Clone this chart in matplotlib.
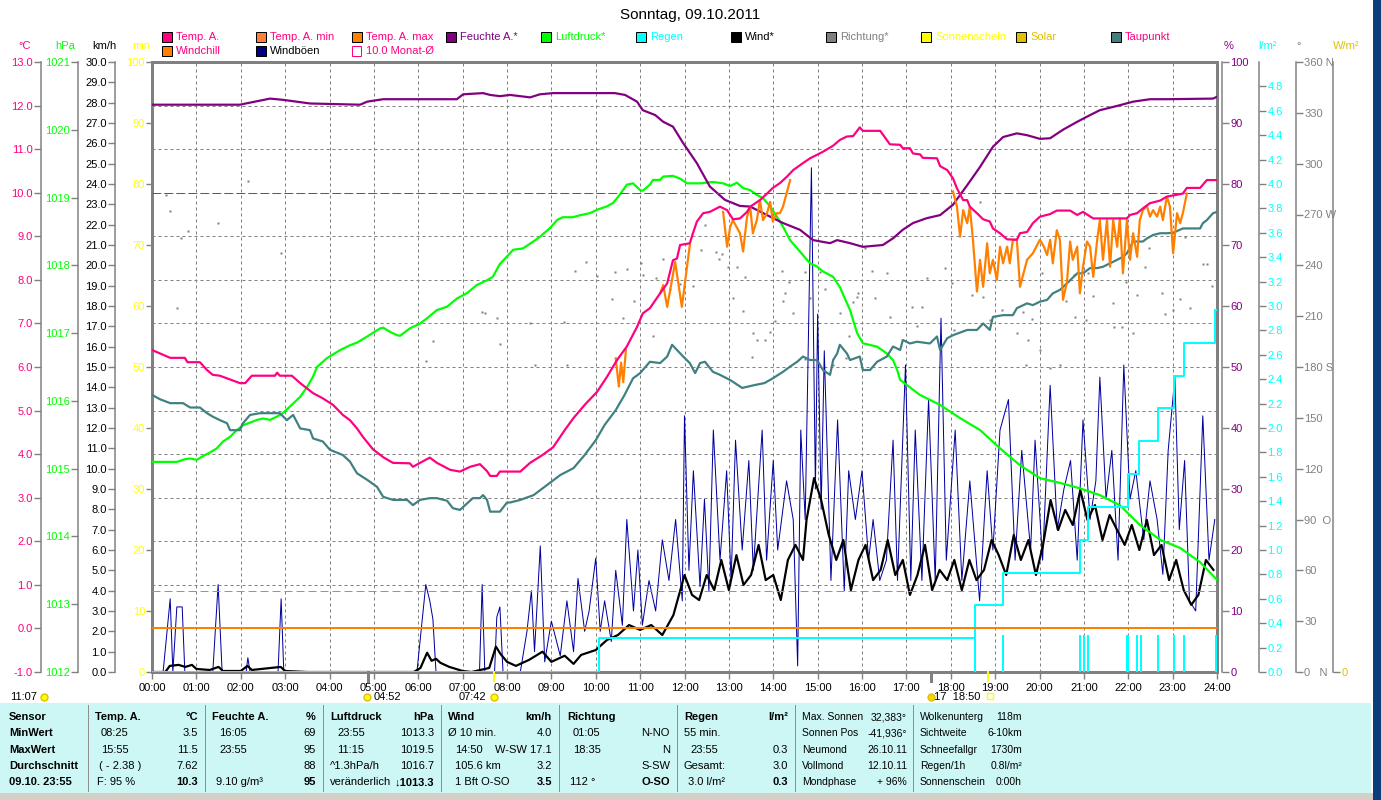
import numpy as np
import matplotlib
matplotlib.use("Agg")
import matplotlib.pyplot as plt
from matplotlib.patches import Rectangle
from matplotlib.lines import Line2D

plt.rcParams['font.family'] = ['Liberation Sans', 'DejaVu Sans']

NAN = float('nan')

# ---- Feuchte A. (%)
hum_h = [0.00, 1.98, 2.66, 2.95, 3.56, 4.69, 4.85, 5.21, 6.87, 7.01, 7.46, 7.62, 7.84, 8.07, 8.52, 8.74, 9.04,
         10.43, 10.66, 10.93, 11.06, 11.34, 11.52, 11.74, 11.97, 12.28, 12.57, 12.91, 13.25, 13.48, 13.86, 14.22,
         14.60, 14.90, 15.28, 15.44, 15.73, 16.02, 16.47, 16.70, 16.92, 17.15, 17.46, 17.76, 18.05, 18.37, 18.66,
         18.95, 19.18, 19.49, 19.72, 20.01, 20.24, 20.53, 20.85, 21.14, 21.36, 21.75, 22.11, 22.49, 22.87, 23.91, 24.00]
hum_v = [93.0, 93.0, 94.0, 93.8, 93.2, 93.0, 93.5, 93.9, 93.9, 94.7, 94.9, 94.6, 94.4, 94.6, 94.2, 94.7, 94.9,
         94.9, 94.6, 93.5, 92.1, 91.3, 90.2, 89.4, 86.7, 83.4, 79.6, 77.4, 76.4, 76.3, 74.9, 73.6,
         72.5, 70.8, 70.3, 70.8, 70.3, 69.7, 70.0, 71.1, 72.5, 73.6, 74.4, 74.9, 76.6, 79.8, 82.8,
         86.1, 87.7, 88.3, 88.0, 87.4, 87.5, 88.9, 90.2, 91.3, 92.1, 92.8, 93.5, 93.9, 93.9, 94.0, 94.3]

# ---- Temp. A. (°C)
temp_h = [0.00, 0.18, 0.41, 0.74, 0.80, 1.08, 1.24, 1.37, 1.53, 1.98, 2.10, 2.25, 2.77, 2.82, 2.88, 3.15, 3.34, 3.63,
          3.85, 4.08, 4.30, 4.46, 4.62, 4.75, 4.98, 5.21, 5.43, 5.81, 5.88, 6.04, 6.26, 6.42, 6.72, 6.94, 7.17, 7.39,
          7.55, 7.62, 7.77, 7.84, 8.07, 8.30, 8.52, 8.80, 9.04, 9.30, 9.50, 9.75, 10.03, 10.25, 10.48, 10.70, 10.93,
          11.06, 11.22, 11.45, 11.61, 11.74, 11.83, 11.90, 12.12, 12.19, 12.28, 12.42, 12.57, 12.80, 12.96, 13.09,
          13.25, 13.41, 13.48, 13.70, 13.86, 13.99, 14.15, 14.31, 14.45, 14.67, 14.83, 15.12, 15.35, 15.50, 15.66,
          15.80, 15.95, 16.02, 16.41, 16.63, 16.86, 16.92, 17.08, 17.15, 17.31, 17.37, 17.69, 17.76, 17.92, 18.05,
          18.14, 18.28, 18.37, 18.43, 18.59, 18.73, 18.88, 18.95, 19.11, 19.27, 19.49, 19.56, 19.72, 19.85, 20.01,
          20.24, 20.39, 20.69, 20.85, 20.98, 21.21, 21.97, 22.04, 22.20, 22.33, 22.49, 22.72, 22.87, 23.23, 23.32,
          23.62, 23.77, 24.00]
temp_c = [6.39, 6.31, 6.21, 6.21, 6.11, 6.11, 5.93, 5.82, 5.80, 5.63, 5.63, 5.80, 5.80, 5.87, 5.80, 5.80, 5.63, 5.40,
          5.28, 5.13, 4.90, 4.78, 4.59, 4.40, 4.11, 3.93, 3.80, 3.79, 3.71, 3.80, 3.92, 3.80, 3.64, 3.60, 3.71, 3.77,
          3.61, 3.50, 3.50, 3.60, 3.60, 3.60, 3.80, 3.98, 4.16, 4.55, 4.83, 5.13, 5.43, 5.77, 6.16, 6.47, 6.92,
          7.23, 7.35, 7.69, 7.92, 8.45, 8.49, 8.80, 8.84, 9.07, 9.34, 9.53, 9.56, 9.68, 9.60, 9.39,
          9.41, 9.56, 9.68, 9.83, 9.98, 10.11, 10.22, 10.37, 10.52, 10.68, 10.79, 10.94, 11.08, 11.21, 11.29,
          11.30, 11.50, 11.42, 11.42, 11.11, 11.10, 11.02, 11.02, 10.90, 10.88, 10.80, 10.79, 10.61, 10.52, 10.33,
          10.10, 9.83, 9.83, 9.68, 9.53, 9.39, 9.34, 9.18, 9.07, 8.93, 8.92, 9.07, 9.10, 9.30, 9.45,
          9.51, 9.59, 9.59, 9.49, 9.56, 9.41, 9.41, 9.49, 9.53, 9.64, 9.76, 9.82, 9.91, 9.98, 10.11,
          10.11, 10.29, 10.29]

# ---- Windchill (°C), only where it leaves the temperature curve
chill_h = [10.45, 10.52, 10.57, 10.62, 10.68, NAN,
           11.45, 11.52, 11.61, 11.79, 11.94, 12.12, NAN,
           12.87, 12.96, 13.03, 13.09, 13.25, 13.32, 13.41, 13.48, 13.54, 13.63, 13.70, 13.77, 13.86, 13.93, 13.99,
           14.08, 14.15, 14.22, 14.31, 14.38, NAN,
           18.05, 18.14, 18.21, 18.28, 18.37, 18.43, 18.50, 18.59, 18.66, 18.73, 18.82, 18.88, 18.95, 19.04, 19.11,
           19.18, 19.27, 19.33, 19.40, 19.49, 19.56, 19.72, 19.85, 20.01, 20.10, 20.17, 20.24, 20.30, 20.39, 20.46,
           20.53, 20.62, 20.69, 20.75, 20.85, 20.91, 20.98, 21.07, 21.14, 21.21, 21.30, 21.36, 21.43, 21.52, 21.59,
           21.66, 21.75, 21.81, 21.88, 21.97, 22.04, 22.11, 22.20, 22.26, 22.33, 22.42, 22.49, 22.56, 22.65, 22.72,
           22.78, 22.87, 22.94, 23.01, 23.10, 23.17, 23.23, 23.32]
chill_c = [6.20, 5.55, 6.10, 5.65, 6.40, NAN,
           7.69, 7.88, 7.38, 8.41, 7.38, 8.80, NAN,
           9.56, 8.76, 9.22, 9.37, 9.07, 8.65, 9.45, 9.68, 9.07, 9.37, 9.83, 9.37, 9.53, 9.79, 9.34,
           9.53, 9.53, 9.68, 10.02, 10.29, NAN,
           10.03, 9.68, 8.99, 9.60, 9.30, 9.68, 8.92, 7.73, 8.46, 7.84, 8.84, 8.15, 8.46, 8.00, 8.76,
           8.38, 8.76, 8.38, 8.92, 8.92, 7.84, 8.46, 8.61, 8.92, 8.76, 8.57, 8.92, 8.38, 9.14, 8.92,
           7.54, 7.96, 8.88, 8.46, 8.76, 7.69, 8.30, 8.88, 8.76, 8.07, 8.92, 9.37, 8.46, 9.37, 8.30,
           9.37, 8.76, 9.41, 8.15, 9.37, 8.46, 9.07, 8.53, 9.37, 9.60, 9.70, 9.45, 9.60, 9.45, 9.68,
           9.37, 9.91, 9.68, 8.61, 9.53, 9.30, 9.53, 9.98]

# ---- Taupunkt (°C)
dew_h = [0.00, 0.18, 0.41, 0.70, 0.86, 1.08, 1.24, 1.37, 1.53, 1.69, 1.76, 1.98, 2.05, 2.21, 2.43, 2.73, 2.88, 3.04,
         3.18, 3.34, 3.56, 3.63, 3.85, 4.01, 4.30, 4.46, 4.62, 4.85, 5.07, 5.21, 5.43, 5.75, 5.88, 6.04, 6.26, 6.42,
         6.65, 6.78, 6.94, 7.10, 7.23, 7.39, 7.46, 7.55, 7.62, 7.84, 8.00, 8.07, 8.30, 8.60, 8.90, 9.20, 9.50, 9.75,
         10.00, 10.20, 10.45, 10.65, 10.84, 11.00, 11.22, 11.45, 11.61, 11.72, 11.83, 11.97, 12.12, 12.24, 12.35,
         12.46, 12.64, 12.80, 13.03, 13.30, 13.60, 13.80, 13.99, 14.22, 14.38, 14.54, 14.67, 14.83, 14.99, 15.12,
         15.28, 15.35, 15.44, 15.50, 15.66, 15.73, 15.95, 16.02, 16.18, 16.34, 16.56, 16.70, 16.86, 16.92, 17.08,
         17.24, 17.53, 17.69, 17.76, 17.92, 18.05, 18.37, 18.59, 18.73, 18.88, 18.95, 19.18, 19.40, 19.49, 19.72,
         19.85, 20.01, 20.17, 20.30, 20.46, 20.62, 20.85, 20.98, 21.14, 21.30, 21.43, 21.75, 21.88, 21.97, 22.11,
         22.33, 22.42, 22.56, 22.72, 22.87, 23.01, 23.23, 23.62, 23.68, 23.77, 23.91, 24.00]
dew_c = [5.36, 5.26, 5.17, 5.17, 5.07, 5.07, 4.94, 4.86, 4.78, 4.71, 4.55, 4.55, 4.71, 4.90, 4.94, 4.94, 4.94, 4.78,
         4.90, 4.59, 4.55, 4.36, 4.29, 4.10, 3.98, 3.83, 3.56, 3.41, 3.25, 3.02, 2.95, 2.95, 2.83, 2.95, 2.99, 2.99,
         2.93, 2.76, 2.72, 2.87, 2.99, 2.99, 3.06, 2.95, 2.68, 2.68, 2.89, 2.89, 2.95, 3.06, 3.29, 3.52, 3.68, 3.98,
         4.32, 4.67, 5.01, 5.36, 5.74, 5.86, 6.12, 6.09, 6.24, 6.51, 6.39, 6.24, 6.09, 5.86, 6.09,
         6.12, 5.89, 5.82, 5.70, 5.52, 5.59, 5.63, 5.74, 5.89, 6.01, 6.12, 6.24, 6.16, 6.16, 5.93,
         5.82, 6.16, 6.31, 6.51, 6.31, 6.16, 6.24, 5.93, 5.93, 6.12, 6.24, 6.47, 6.39, 6.62, 6.54,
         6.58, 6.54, 6.70, 6.39, 6.66, 6.73, 6.85, 6.85, 7.00, 6.85, 7.15, 7.19, 7.19, 7.35, 7.46,
         7.42, 7.50, 7.54, 7.69, 7.77, 7.92, 8.15, 8.15, 8.27, 8.27, 8.30, 8.46, 8.53, 8.61, 8.88,
         8.88, 8.95, 9.03, 9.07, 9.07, 9.08, 9.18, 9.18, 9.30, 9.37, 9.53, 9.56]

# ---- Luftdruck (hPa)
pres_h = [0.00, 0.56, 0.74, 0.86, 1.01, 1.16, 1.31, 1.46, 1.60, 1.76, 1.91, 2.05, 2.21, 2.37, 2.50, 2.66, 2.82, 2.95,
          3.18, 3.34, 3.50, 3.63, 3.72, 3.94, 4.24, 4.46, 4.62, 4.85, 5.14, 5.21, 5.36, 5.52, 5.59, 5.81, 6.04, 6.20,
          6.42, 6.65, 6.87, 7.10, 7.32, 7.55, 7.68, 7.84, 8.00, 8.14, 8.36, 8.59, 8.74, 8.97, 9.13, 9.26, 9.49, 9.65,
          9.87, 10.03, 10.25, 10.39, 10.54, 10.70, 10.84, 11.00, 11.06, 11.22, 11.29, 11.45, 11.52, 11.74, 11.90,
          12.06, 12.35, 12.64, 12.87, 13.03, 13.18, 13.32, 13.48, 13.63, 13.77, 13.93, 14.08, 14.22, 14.38, 14.54,
          14.67, 14.83, 14.99, 15.12, 15.35, 15.50, 15.73, 15.89, 16.02, 16.34, 16.56, 16.70, 16.79, 16.86, 17.30,
          17.76, 18.20, 18.66, 19.11, 19.56, 20.01, 20.46, 20.91, 21.36, 21.81, 22.26, 22.72, 23.17, 23.62, 24.00]
pres_v = [1015.10, 1015.10, 1015.14, 1015.15, 1015.13, 1015.19, 1015.24, 1015.30, 1015.40, 1015.47, 1015.57, 1015.64,
          1015.68, 1015.72, 1015.74, 1015.72, 1015.77, 1015.82, 1015.96, 1016.06, 1016.21, 1016.36, 1016.50, 1016.63,
          1016.75, 1016.82, 1016.86, 1016.95, 1017.07, 1017.08, 1017.02, 1016.97, 1016.96, 1017.07, 1017.14, 1017.22,
          1017.34, 1017.39, 1017.51, 1017.59, 1017.71, 1017.78, 1017.83, 1018.02, 1018.13, 1018.23, 1018.25, 1018.35,
          1018.42, 1018.55, 1018.67, 1018.71, 1018.71, 1018.74, 1018.77, 1018.82, 1018.87, 1018.92, 1019.04, 1019.19,
          1019.21, 1019.11, 1019.10, 1019.19, 1019.26, 1019.26, 1019.31, 1019.32, 1019.28, 1019.21, 1019.21, 1019.23,
          1019.21, 1019.17, 1019.22, 1019.14, 1019.11, 1019.04, 1018.99, 1018.87, 1018.72, 1018.57, 1018.37, 1018.25,
          1018.15, 1018.03, 1017.98, 1017.91, 1017.83, 1017.68, 1017.34, 1017.00, 1016.85, 1016.80, 1016.70, 1016.60,
          1016.46, 1016.31, 1016.09, 1015.94, 1015.75, 1015.57, 1015.30, 1015.05, 1014.86, 1014.79, 1014.71, 1014.61,
          1014.46, 1014.17, 1013.95, 1013.83, 1013.62, 1013.36]

# ---- Regen: cumulative (l/m²) and interval bars
rain_h = [0.00, 10.08, 18.55, 19.18, 20.91, 21.09, 21.99, 22.25, 22.67, 23.03, 23.26, 23.96, 24.00]
rain_v = [0.00, 0.28, 0.55, 0.81, 1.08, 1.35, 1.62, 1.89, 2.16, 2.43, 2.70, 2.97, 2.97]
rbar_h = [18.55, 19.18, 20.91, 21.00, 21.09, 21.99, 22.20, 22.29, 22.67, 23.03, 23.26, 23.98]
rbar_v = [0.30, 0.30, 0.30, 0.30, 0.30, 0.30, 0.30, 0.30, 0.30, 0.30, 0.30, 0.30]

# ---- Windböen (km/h)
gust_h = [0.00, 0.25, 0.41, 0.47, 0.56, 0.68, 0.74, 1.37, 1.49, 1.58, 2.12, 2.16, 2.21, 2.84, 2.91, 2.97, 5.97, 6.17,
          6.26, 6.33, 6.40, 7.38, 7.44, 7.50, 7.72, 7.77, 7.84, 7.91, 8.30, 8.45, 8.55, 8.62, 8.75, 8.85, 9.00, 9.20,
          9.35, 9.50, 9.60, 9.75, 9.85, 10.00, 10.10, 10.20, 10.35, 10.45, 10.60, 10.70, 10.85, 10.95, 11.05, 11.20,
          11.35, 11.50, 11.65, 11.80, 11.95, 12.00, 12.10, 12.20, 12.35, 12.45, 12.55, 12.65, 12.80, 12.95, 13.05,
          13.15, 13.30, 13.45, 13.55, 13.75, 13.85, 14.00, 14.10, 14.30, 14.45, 14.55, 14.62, 14.72, 14.86, 14.95,
          15.00, 15.08, 15.15, 15.30, 15.45, 15.60, 15.70, 15.85, 16.00, 16.15, 16.25, 16.40, 16.55, 16.70, 16.80,
          16.98, 17.10, 17.20, 17.35, 17.50, 17.65, 17.78, 17.90, 18.10, 18.25, 18.43, 18.65, 18.82, 18.95, 19.11,
          19.30, 19.45, 19.60, 19.80, 19.90, 20.07, 20.24, 20.40, 20.55, 20.70, 20.85, 20.98, 21.14, 21.27, 21.36,
          21.50, 21.63, 21.77, 21.90, 22.04, 22.17, 22.35, 22.49, 22.65, 22.78, 22.90, 23.05, 23.15, 23.27, 23.38,
          23.52, 23.68, 23.82, 23.95]
gust_v = [0.0, 0.0, 3.6, 0.0, 3.2, 3.2, 0.0, 0.0, 4.3, 0.0, 0.0, 0.7, 0.0, 0.0, 3.6, 0.0, 0.0, 4.3,
          3.5, 2.6, 0.0, 0.0, 4.3, 0.0, 0.0, 2.7, 3.2, 0.0, 0.0, 2.0, 4.0, 1.0, 6.2, 0.5, 2.5, 0.8,
          3.5, 1.0, 4.6, 2.0, 3.0, 5.6, 2.0, 3.5, 1.5, 5.0, 2.3, 7.5, 3.0, 6.0, 2.3, 4.5,
          3.0, 6.5, 4.5, 7.5, 3.5, 12.6, 5.0, 9.9, 4.2, 8.5, 4.0, 11.9, 5.5, 9.9, 4.5,
          11.4, 6.0, 10.4, 5.0, 11.9, 5.5, 10.4, 6.0, 9.4, 7.5, 0.3, 11.9, 7.5, 24.8, 9.0,
          17.6, 8.0, 15.8, 4.5, 12.4, 4.0, 9.9, 7.5, 9.9, 5.5, 7.5, 4.5, 5.5, 11.4, 4.5,
          15.1, 4.5, 11.9, 4.5, 13.4, 4.5, 17.4, 5.5, 11.9, 4.5, 9.4, 3.5, 9.9, 6.0, 11.9,
          13.4, 5.5, 10.9, 6.0, 11.4, 5.5, 14.1, 7.0, 9.0, 10.4, 5.5, 12.4, 7.5, 9.4, 14.5,
          8.5, 10.9, 5.5, 15.1, 8.5, 9.9, 6.5, 9.4, 7.5, 4.8, 10.9, 14.5, 7.0, 10.4, 3.5,
          3.0, 12.6, 5.5, 7.5]

# ---- Wind (km/h)
wind_h = [0.00, 0.30, 0.40, 0.60, 0.75, 0.90, 1.00, 1.30, 1.50, 1.60, 2.00, 2.15, 2.25, 2.90, 3.00, 3.50, 5.90, 6.05,
          6.20, 6.30, 6.40, 6.50, 6.70, 7.00, 7.20, 7.60, 7.75, 7.85, 8.00, 8.20, 8.50, 8.80, 9.00, 9.30, 9.50, 9.67,
          10.00, 10.25, 10.50, 10.75, 11.00, 11.25, 11.50, 11.75, 12.00, 12.17, 12.33, 12.50, 12.67, 12.83, 13.00,
          13.17, 13.33, 13.50, 13.67, 13.83, 14.00, 14.17, 14.33, 14.50, 14.67, 14.75, 14.92, 15.08, 15.25, 15.42,
          15.58, 15.75, 15.92, 16.08, 16.25, 16.42, 16.58, 16.75, 16.92, 17.08, 17.25, 17.42, 17.58, 17.75, 17.92,
          18.08, 18.25, 18.42, 18.58, 18.75, 18.92, 19.08, 19.25, 19.42, 19.58, 19.75, 19.92, 20.08, 20.25, 20.42,
          20.58, 20.75, 20.92, 21.08, 21.25, 21.42, 21.58, 21.75, 21.92, 22.08, 22.25, 22.42, 22.58, 22.75, 22.92,
          23.08, 23.25, 23.42, 23.58, 23.75, 23.92]
wind_v = [0.0, 0.0, 0.3, 0.35, 0.25, 0.35, 0.15, 0.1, 0.25, 0.05, 0.05, 0.3, 0.1, 0.25, 0.05, 0.0, 0.0, 0.2,
          0.95, 0.55, 0.65, 0.45, 0.25, 0.05, 0.0, 0.2, 1.25, 0.9, 0.5, 0.3, 0.6, 1.0, 0.5, 0.8, 0.4, 0.84,
          1.08, 1.57, 1.82, 2.31, 2.07, 2.31, 1.82, 2.80, 4.77, 3.79, 3.54, 4.77, 4.03, 5.51, 4.03,
          5.75, 4.28, 4.77, 6.25, 4.52, 4.77, 3.54, 5.51, 6.25, 5.51, 7.48, 9.54, 8.46, 6.74, 5.51,
          6.49, 4.03, 5.51, 6.25, 4.52, 5.02, 6.49, 4.77, 5.51, 3.79, 4.77, 6.25, 4.03, 5.02, 4.52,
          5.51, 4.03, 5.51, 4.52, 5.02, 6.49, 5.75, 4.77, 6.74, 5.51, 6.49, 4.77, 6.25, 8.46, 6.98,
          7.97, 7.23, 8.95, 7.48, 8.21, 6.49, 7.72, 6.98, 6.25, 7.23, 6.00, 7.48, 5.75, 6.25, 4.52,
          5.51, 4.03, 3.30, 3.79, 5.51, 5.02]

# ---- Richtung (°)
dir_h = [0.31, 0.41, 0.65, 0.80, 0.56, 1.48, 2.16, 2.90, 6.17, 6.33, 7.44, 7.50, 7.77, 7.84, 8.52, 8.63, 9.28, 9.53,
         9.78, 9.35, 10.02, 10.36, 10.43, 10.70, 10.62, 10.86, 11.02, 11.06, 11.30, 11.36, 11.52, 11.67, 11.90, 12.20,
         12.46, 12.37, 12.71, 12.78, 12.85, 12.99, 13.10, 13.31, 13.37, 13.19, 13.55, 13.63, 13.82, 13.93, 14.03,
         14.21, 14.27, 14.36, 14.45, 14.20, 14.72, 14.82, 15.05, 15.17, 15.50, 15.71, 15.79, 15.92, 15.63, 15.35,
         14.72, 13.53, 16.07, 16.22, 16.56, 17.46, 17.87, 18.02, 15.88, 16.29, 17.12, 17.35, 16.63, 17.23, 18.66,
         18.47, 18.73, 18.07, 18.88, 19.15, 19.62, 19.83, 19.49, 19.75, 20.01, 20.46, 20.24, 19.69, 20.60, 20.05,
         20.78, 21.10, 21.21, 21.66, 21.96, 22.19, 22.38, 22.47, 22.75, 23.69, 23.77, 23.88, 23.17, 23.00, 23.39,
         23.28, 22.83, 21.69, 21.05, 20.80, 21.87, 22.11]
dir_v = [281.8, 272.3, 256.0, 260.0, 215.0, 265.0, 289.5, 247.5, 183.8, 195.4, 212.7, 212.0, 209.0, 193.6, 205.8,
         181.2, 206.8, 236.9, 241.9, 181.2, 233.8, 220.2, 236.3, 237.9, 209.2, 219.2, 241.3, 234.0, 198.5, 232.8,
         243.6, 225.9, 229.0, 227.9, 263.9, 249.0, 247.7, 243.6, 246.6, 238.9, 220.6, 213.1, 233.4, 239.3, 200.0,
         196.0, 196.0, 200.9, 207.2, 219.2, 223.5, 230.0, 212.1, 236.9, 236.0, 221.0, 236.3, 225.9, 212.1, 198.5,
         218.2, 223.5, 185.5, 181.2, 184.8, 186.1, 250.1, 236.9, 235.4, 232.4, 238.3, 229.5, 221.6, 220.6, 215.7,
         215.7, 209.7, 204.3, 277.6, 222.6, 221.6, 201.9, 207.8, 213.7, 212.7, 208.2, 200.0, 196.0, 190.1, 181.2,
         179.3, 181.2, 219.0, 235.4, 234.4, 235.4, 222.0, 217.6, 230.4, 222.6, 238.9, 250.1, 223.5, 240.9, 240.9,
         227.9, 220.0, 213.7, 214.7, 257.0, 211.1, 203.8, 207.8, 209.7, 203.8, 200.0]

hour_labels = ['%02d:00' % h for h in range(25)]

# ------------------------------------------------------------------ layout
W, H = 1381, 800
X0, X1, Y0, Y1 = 152, 1217, 62, 672   # plot box in pixels
GREY = '#808080'
C_TEMP, C_CHILL, C_HUM, C_PRES = '#FF0080', '#FF8000', '#800080', '#00FF00'
C_DEW, C_RAIN, C_GUST, C_SOLAR = '#408080', '#00FFFF', '#0000A0', '#E0C000'
PX = 0.72  # one pixel in points

fig = plt.figure(figsize=(W / 100, H / 100), dpi=100)
fig.patch.set_facecolor('white')


def box(x0, y0, x1, y1):
    return [x0 / W, 1 - y1 / H, (x1 - x0) / W, (y1 - y0) / H]


def ftext(x, y, s, **kw):
    kw.setdefault('va', 'center')
    kw.setdefault('fontsize', 8)
    fig.text(x / W, 1 - y / H, s, **kw)


ax = fig.add_axes(box(X0, Y0, X1, Y1))
ax.set_xlim(0, 24)
ax.set_ylim(0, 100)
for s in ax.spines.values():
    s.set_color(GREY)
    s.set_linewidth(3 * PX)
ax.set_xticks(range(25))
ax.set_xticklabels(hour_labels)
ax.set_yticks(range(0, 101, 10))
ax.tick_params(axis='x', colors=GREY, labelcolor='black', length=5, width=1, labelsize=8, pad=3)
ax.tick_params(axis='y', colors=GREY, labelcolor='#FFFF00', length=4, width=1, labelsize=8, pad=1)


def overlay(lo, hi):
    a = ax.twinx()
    a.set_ylim(lo, hi)
    a.axis('off')
    return a


# grid (hourly and per degree C)
ax_g = overlay(-1, 13)
ax_g.vlines(range(1, 24), -1, 13, colors=GREY, linestyles=(0, (3, 3)), linewidth=PX)
ax_g.hlines(range(0, 13), 0, 24, colors=GREY, linestyles=(0, (3, 3)), linewidth=PX)

ax_d = overlay(0, 360)
ax_d.plot(dir_h, dir_v, ls='none', marker='s', ms=1.7, color=GREY, mec='none')

ax_w = overlay(0, 30)
ax_w.plot(gust_h, gust_v, color=C_GUST, lw=1.0 * PX)
ax_w.plot(wind_h, wind_v, color='black', lw=2.2 * PX)

ax_p = overlay(1012, 1021)
ax_p.axhline(1013.2, color=C_PRES, lw=PX, dashes=(8, 4))
ax_p.plot(pres_h, pres_v, color=C_PRES, lw=2.2 * PX)

ax_r = overlay(0, 5)
ax_r.bar(rbar_h, rbar_v, width=0.06, color=C_RAIN, lw=0)
ax_r.plot(rain_h, rain_v, color=C_RAIN, lw=2 * PX, drawstyle='steps-post')

ax_h = overlay(0, 100)
ax_h.plot(hum_h, hum_v, color=C_HUM, lw=2.2 * PX)

ax_t = overlay(-1, 13)
ax_t.axhline(10.0, color=C_TEMP, lw=PX, dashes=(8, 4))
ax_t.axhline(0.0, color=C_CHILL, lw=2 * PX)
ax_t.plot(dew_h, dew_c, color=C_DEW, lw=2.2 * PX)
ax_t.plot(chill_h, chill_c, color=C_CHILL, lw=2.2 * PX)
ax_t.plot(temp_h, temp_c, color=C_TEMP, lw=2.2 * PX)


# ------------------------------------------------------------ scale axes
def scale(xpx, lo, hi, ticks, labels, color, side):
    if side == 'left':
        a = fig.add_axes(box(xpx, Y0, xpx + 1, Y1))
    else:
        a = fig.add_axes(box(xpx - 1, Y0, xpx, Y1))
    a.set_ylim(lo, hi)
    a.set_xticks([])
    a.patch.set_visible(False)
    for k, s in a.spines.items():
        s.set_visible(k == side)
        s.set_color(GREY)
        s.set_linewidth(1.5 * PX)
    a.yaxis.set_ticks_position(side)
    a.set_yticks(ticks)
    a.set_yticklabels(labels)
    a.tick_params(axis='y', colors=GREY, labelcolor=color, length=5, width=1, labelsize=8, pad=1)
    return a


t_ticks = list(range(-1, 14))
scale(41, -1, 13, t_ticks, ['%.1f' % v for v in t_ticks], C_TEMP, 'left')
p_ticks = list(range(1012, 1022))
scale(78, 1012, 1021, p_ticks, [str(v) for v in p_ticks], C_PRES, 'left')
w_ticks = list(range(0, 31))
scale(115, 0, 30, w_ticks, ['%.1f' % v for v in w_ticks], 'black', 'left')
h_ticks = list(range(0, 101, 10))
scale(1222, 0, 100, h_ticks, [str(v) for v in h_ticks], C_HUM, 'right')
r_ticks = [i * 0.2 for i in range(25)]
scale(1259, 0, 5, r_ticks, ['%.1f' % v for v in r_ticks], C_RAIN, 'right')
d_ticks = list(range(0, 361, 30))
d_names = {0: '0   N', 90: '90  O', 180: '180 S', 270: '270 W', 360: '360 N'}
scale(1296, 0, 360, d_ticks, [d_names.get(v, str(v)) for v in d_ticks], GREY, 'right')
scale(1333, 0, 100, [0], ['0'], C_SOLAR, 'right')

# unit labels
for x, s, c in [(18, '°C', C_TEMP), (55, 'hPa', C_PRES), (92, 'km/h', 'black'), (132, 'min', '#FFFF00'),
                (1224, '%', C_HUM), (1258, 'l/m²', C_RAIN), (1296, '°', GREY), (1333, 'W/m²', C_SOLAR)]:
    ftext(x, 46, s, color=c)

# title
ftext(690, 15, 'Sonntag, 09.10.2011', ha='center', fontsize=11)

# legend
legend = [(162, 37, 'Temp. A.', C_TEMP, C_TEMP), (256, 37, 'Temp. A. min', '#FF8040', C_TEMP),
          (352, 37, 'Temp. A. max', C_CHILL, C_TEMP), (446, 37, 'Feuchte A.*', C_HUM, C_HUM),
          (541, 37, 'Luftdruck*', C_PRES, C_PRES), (636, 37, 'Regen', C_RAIN, C_RAIN),
          (731, 37, 'Wind*', 'black', 'black'), (826, 37, 'Richtung*', GREY, GREY),
          (921, 37, 'Sonnenschein', '#FFFF00', '#FFFF00'), (1016, 37, 'Solar', C_SOLAR, C_SOLAR),
          (1111, 37, 'Taupunkt', C_DEW, C_TEMP),
          (162, 51, 'Windchill', C_CHILL, C_TEMP), (256, 51, 'Windböen', '#000080', 'black')]
for x, y, s, fc, tc in legend:
    fig.patches.append(Rectangle((x / W, 1 - (y + 5) / H), 10 / W, 10 / H, transform=fig.transFigure,
                                 facecolor=fc, edgecolor='black', lw=PX))
    ftext(x + 14, y, s, color=tc)
fig.patches.append(Rectangle((352 / W, 1 - 56 / H), 9 / W, 10 / H, transform=fig.transFigure,
                             facecolor='none', edgecolor=C_TEMP, lw=PX))
ftext(366, 51, '10.0 Monat-Ø', color=C_TEMP)

# sun / moon markers under the axis
for xp, c, lw in [(368, GREY, 3), (931, GREY, 3), (494, '#FFFF00', 2), (988, '#FFFF00', 2)]:
    fig.add_artist(Line2D([xp / W, xp / W], [1 - 672 / H, 1 - 681 / H], color=c, lw=lw * PX))
ftext(10, 697, '11:07')
ftext(374, 697, '04:52')
ftext(459, 697, '07:42')
ftext(934, 697, '17  18:50')
for xp, c in [(44, '#FFFF00'), (494, '#FFFF00'), (367, '#FFFF00'), (931, '#FFD000')]:
    fig.add_artist(Line2D([xp / W], [1 - 697 / H], marker='o', ms=5, color=c, mec='#E0C000'))
fig.add_artist(Line2D([990 / W], [1 - 696 / H], marker='s', ms=5, mfc='white', mec='#FFFF00'))

# ------------------------------------------------------------ info panel
fig.patches.append(Rectangle((0, 1 - 793 / H), 1371 / W, 90 / H, transform=fig.transFigure,
                             facecolor='#CCF7F4', edgecolor='none'))
fig.patches.append(Rectangle((0, 0), 1373 / W, 7 / H, transform=fig.transFigure,
                             facecolor='#D4D0C8', edgecolor='none'))
fig.patches.append(Rectangle((1373 / W, 0), 8 / W, 1, transform=fig.transFigure,
                             facecolor='#0B3F78', edgecolor='none'))
for xs in [88, 205, 323, 441, 559, 677, 795, 913]:
    fig.add_artist(Line2D([xs / W, xs / W], [1 - 705 / H, 1 - 791 / H], color='#909090', lw=PX))

ROWS = [717, 733, 750, 766, 782]
FS = 8
for y, s in zip(ROWS, ['Sensor', 'MinWert', 'MaxWert', 'Durchschnitt', '09.10. 23:55']):
    ftext(9, y, s, fontweight='bold', fontsize=FS)

columns = [
    (95, 198, 'Temp. A.', '°C', [(101, '08:25', '3.5'), (101, '15:55', '11.5'), (99, '( - 2.38 )', '7.62'),
                                 (97, 'F: 95 %', '10.3')]),
    (212, 316, 'Feuchte A.', '%', [(219, '16:05', '69'), (219, '23:55', '95'), (219, '', '88'),
                                   (216, '9.10 g/m³', '95')]),
    (330, 434, 'Luftdruck', 'hPa', [(337, '23:55', '1013.3'), (337, '11:15', '1019.5'), (330, '^1.3hPa/h', '1016.7'),
                                    (330, 'veränderlich', '↓1013.3')]),
    (448, 552, 'Wind', 'km/h', [(448, 'Ø 10 min.', '4.0'), (455, '14:50', 'W-SW 17.1'), (455, '105.6 km', '3.2'),
                                (455, '1 Bft O-SO', '3.5')]),
    (567, 670, 'Richtung', '', [(573, '01:05', 'N-NO'), (573, '18:35', 'N'), (573, '', 'S-SW'),
                                (570, '112 °', 'O-SO')]),
    (684, 788, 'Regen', 'l/m²', [(684, '55 min.', ''), (690, '23:55', '0.3'), (684, 'Gesamt:', '3.0'),
                                 (688, '3.0 l/m²', '0.3')]),
]
for xl, xr, head, unit, rows in columns:
    ftext(xl, ROWS[0], head, fontweight='bold', fontsize=FS)
    ftext(xr, ROWS[0], unit, fontweight='bold', fontsize=FS, ha='right')
    for i, (xt, left, right) in enumerate(rows):
        wt = 'bold' if i == 3 else 'normal'
        ftext(xt, ROWS[i + 1], left, fontsize=FS if xt > 320 and i == 3 and xl == 330 else FS,
              stretch='condensed')
        ftext(xr, ROWS[i + 1], right, fontsize=FS, ha='right', fontweight=wt)

extra = [(802, 907, [('Max. Sonnen', '32,383°'), ('Sonnen Pos', '-41,936°'), ('Neumond', '26.10.11'),
                     ('Vollmond', '12.10.11'), ('Mondphase', '+ 96%')]),
         (920, 1022, [('Wolkenunterg', '118m'), ('Sichtweite', '6-10km'), ('Schneefallgr', '1730m'),
                      ('Regen/1h', '0.8l/m²'), ('Sonnenschein', '0:00h')])]
for xl, xr, rows in extra:
    for y, (a, b) in zip(ROWS, rows):
        ftext(xl, y, a, fontsize=7.5)
        ftext(xr, y, b, fontsize=7.5, ha='right')

fig.savefig('out.png', dpi=100)
